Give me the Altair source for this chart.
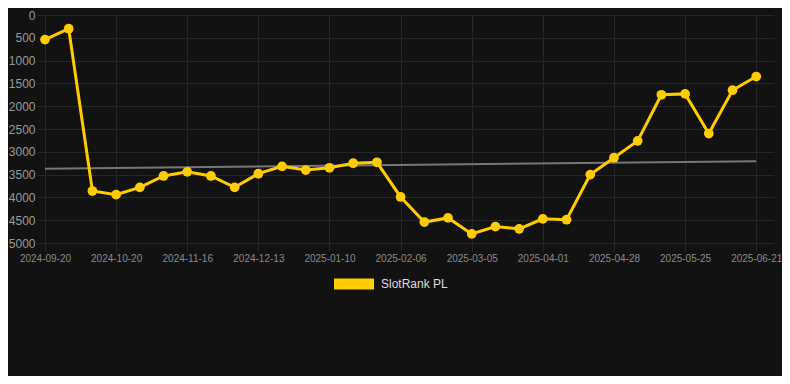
import altair as alt
import pandas as pd

# Series values (SlotRank PL rank per observation, evenly spaced points)
ranks = [540, 300, 3860, 3940, 3780, 3530, 3440, 3530, 3780, 3480, 3320, 3400, 3350,
         3250, 3230, 3990, 4540, 4450, 4800, 4640, 4690, 4470, 4490, 3500, 3130, 2760,
         1750, 1730, 2600, 1650, 1350]
# Trend line endpoints (first and last observation)
trend_idx = [0, 30]
trend_vals = [3370, 3205]
# x tick labels (every third observation)
tick_labels = ["2024-09-20", "2024-10-20", "2024-11-16", "2024-12-13", "2025-01-10",
               "2025-02-06", "2025-03-05", "2025-04-01", "2025-04-28", "2025-05-25",
               "2025-06-21"]
series_name = "SlotRank PL"

YELLOW = "#FFCC00"
GRID = "#262626"
BG = "#121212"
FONT = "Liberation Sans"

df = pd.DataFrame({"idx": list(range(len(ranks))), "rank": ranks, "series": series_name})
df_trend = pd.DataFrame({"idx": trend_idx, "rank": trend_vals})

label_expr = "[" + ",".join("'%s'" % t for t in tick_labels) + "][round(datum.value / 3)]"

x_enc = alt.X("idx:Q", title=None,
              scale=alt.Scale(domain=[0, 30.75], nice=False, zero=False),
              axis=alt.Axis(values=list(range(0, 31, 3)), labelExpr=label_expr,
                            grid=True, gridColor=GRID, domain=False,
                            ticks=True, tickColor=GRID, tickSize=8,
                            labelColor="#8a8a8a", labelFontSize=10, labelFont=FONT,
                            labelPadding=2, labelFlush=False))
y_enc = alt.Y("rank:Q", title=None,
              scale=alt.Scale(domain=[0, 5000], reverse=True, nice=False),
              axis=alt.Axis(values=list(range(0, 5001, 500)), format="d", grid=True,
                            gridColor=GRID, domain=False, ticks=True, tickColor=GRID,
                            tickSize=8, labelColor="#9a9a9a", labelFontSize=12,
                            labelFont=FONT, labelPadding=2))

rect_path = "M-1,-0.275L1,-0.275L1,0.275L-1,0.275Z"

color_enc = alt.Color("series:N", title=None,
                      scale=alt.Scale(domain=[series_name], range=[YELLOW]),
                      legend=alt.Legend(orient="none", legendX=289, legendY=249,
                                        symbolType=rect_path, symbolSize=1600,
                                        symbolFillColor=YELLOW, symbolStrokeColor=YELLOW,
                                        symbolStrokeWidth=0, symbolOpacity=1,
                                        labelColor="#dddddd", labelFontSize=12,
                                        labelFont=FONT, labelOffset=7))

trend = alt.Chart(df_trend).mark_line(color="#777777", strokeWidth=2).encode(x=x_enc, y=y_enc)
line = alt.Chart(df).mark_line(strokeWidth=3).encode(x=x_enc, y=y_enc, color=color_enc)
pts = alt.Chart(df).mark_point(filled=True, size=95, opacity=1).encode(x=x_enc, y=y_enc, color=color_enc)

chart = alt.layer(trend, line, pts).properties(
    width=729, height=228,
    autosize=alt.AutoSizeParams(type="none"),
    padding={"left": 37, "top": 7, "right": 8, "bottom": 133},
    background=BG,
).configure_view(stroke=None)

chart.save("out.html", embed_options={"renderer": "svg", "actions": False})
